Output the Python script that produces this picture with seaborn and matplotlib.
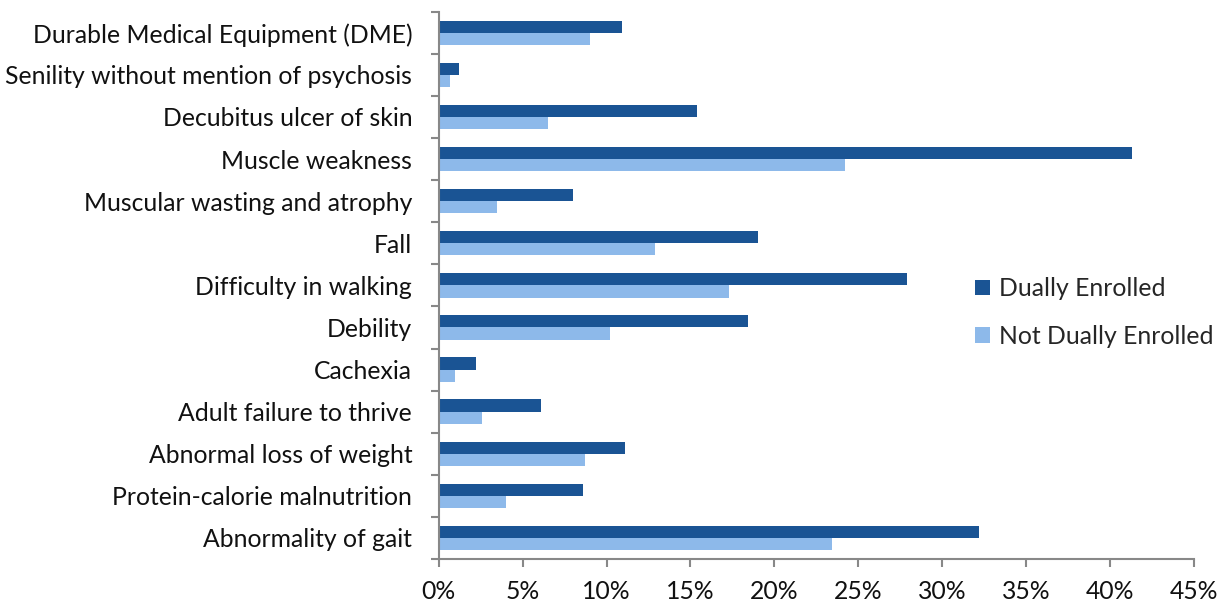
import matplotlib
matplotlib.use("Agg")
import matplotlib.pyplot as plt
from matplotlib.ticker import FuncFormatter, FixedLocator
import seaborn as sns
import pandas as pd

conditions = [
    "Durable Medical Equipment (DME)",
    "Senility without mention of psychosis",
    "Decubitus ulcer of skin",
    "Muscle weakness",
    "Muscular wasting and atrophy",
    "Fall",
    "Difficulty in walking",
    "Debility",
    "Cachexia",
    "Adult failure to thrive",
    "Abnormal loss of weight",
    "Protein-calorie malnutrition",
    "Abnormality of gait",
]
dually = [10.9, 1.2, 15.4, 41.3, 8.0, 19.0, 27.9, 18.4, 2.2, 6.1, 11.1, 8.6, 32.2]
not_dually = [9.0, 0.7, 6.5, 24.2, 3.5, 12.9, 17.3, 10.2, 1.0, 2.6, 8.7, 4.0, 23.4]
groups = ["Dually Enrolled", "Not Dually Enrolled"]
x_ticks = [0, 5, 10, 15, 20, 25, 30, 35, 40, 45]

df = pd.DataFrame({
    "condition": conditions * 2,
    "pct": dually + not_dually,
    "group": [groups[0]] * len(conditions) + [groups[1]] * len(conditions),
})

sns.set_style("white")
plt.rcParams["font.family"] = ["Lato", "DejaVu Sans"]
FS = 17.8

fig = plt.figure(figsize=(12.25, 6.06), dpi=100)
ax = fig.add_axes([0.358, 0.0776, 0.617, 0.903])

sns.barplot(data=df, y="condition", x="pct", hue="group", order=conditions,
            hue_order=groups, palette=["#1A5494", "#8DB9EA"], orient="h",
            width=0.58, saturation=1, linewidth=0, ax=ax)

ax.set_xlim(0, 45)
ax.set_ylim(len(conditions) - 0.5, -0.5)
ax.set_xlabel("")
ax.set_ylabel("")

ax.xaxis.set_major_locator(FixedLocator(x_ticks))
ax.xaxis.set_major_formatter(FuncFormatter(lambda v, p: f"{v:.0f}%"))

# category boundary ticks on the y axis
ax.yaxis.set_minor_locator(FixedLocator([i - 0.5 for i in range(len(conditions) + 1)]))
ax.tick_params(axis="y", which="major", length=0, pad=19, labelsize=FS, labelcolor="#111111")
ax.tick_params(axis="y", which="minor", left=True, length=6, width=1.5, color="#888888")
ax.tick_params(axis="x", which="major", bottom=True, length=6, width=1.5, color="#888888",
               pad=9, labelsize=FS, labelcolor="#111111")

for side in ["top", "right"]:
    ax.spines[side].set_visible(False)
for side in ["left", "bottom"]:
    ax.spines[side].set_color("#888888")
    ax.spines[side].set_linewidth(1.5)

ax.legend(loc="center left", bbox_to_anchor=(0.778, 0.484), bbox_transform=fig.transFigure,
          frameon=False, fontsize=FS, handlelength=0.6, handleheight=0.6,
          handletextpad=0.35, labelspacing=1.0)

fig.savefig("out.png", dpi=100)
